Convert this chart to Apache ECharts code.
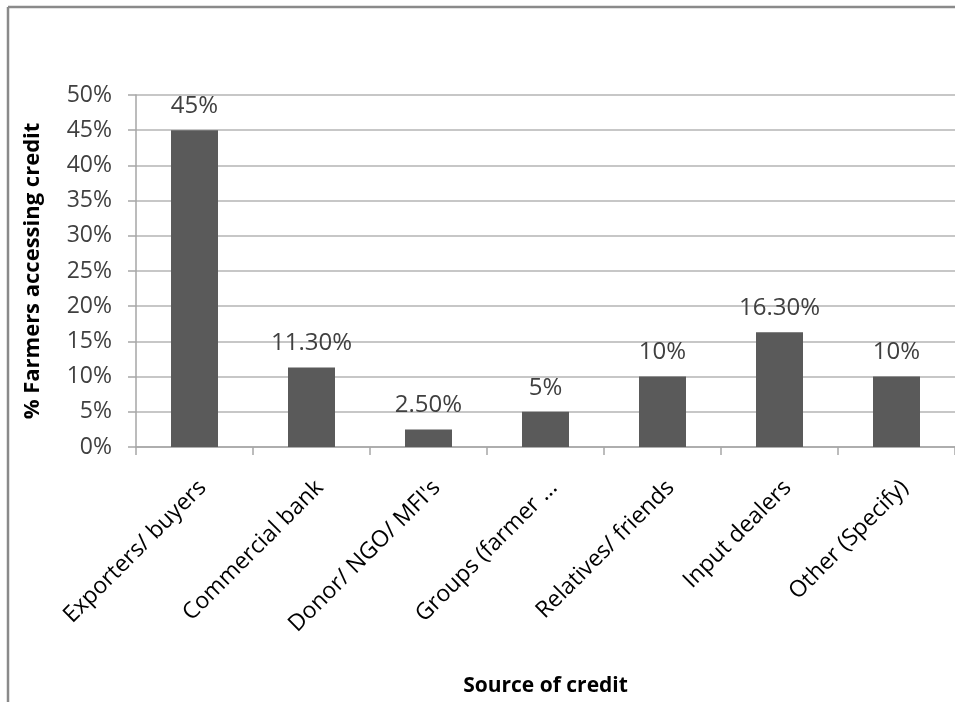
<!DOCTYPE html>
<html><head><meta charset="utf-8">
<script src="https://cdn.jsdelivr.net/npm/echarts@6/dist/echarts.min.js"></script>
<style>html,body{margin:0;padding:0;background:#fff}#c{width:955px;height:702px}</style>
</head><body><div id="c"></div>
<script>
const categories = ["Exporters/ buyers","Commercial bank","Donor/ NGO/ MFI's","Groups (farmer ...","Relatives/ friends","Input dealers","Other (Specify)"];
const values = [45, 11.3, 2.5, 5, 10, 16.3, 10];
const valueLabels = ["45%","11.30%","2.50%","5%","10%","16.30%","10%"];
const yTicks = [0,5,10,15,20,25,30,35,40,45,50];
const FONT = "Open Sans";
const chart = echarts.init(document.getElementById('c'));
chart.setOption({
  animation:false,
  backgroundColor:'#fff',
  graphic:[
    {type:'line', shape:{x1:8,y1:7,x2:8,y2:702}, style:{stroke:'#8a8a8a',lineWidth:2.5}},
    {type:'line', shape:{x1:8,y1:7,x2:955,y2:7}, style:{stroke:'#8a8a8a',lineWidth:2.5}}
  ],
  grid:{left:136, top:95, width:832, height:355, containLabel:false},
  xAxis:{
    type:'category', data:categories,
    axisLine:{lineStyle:{color:'#a6a6a6',width:1.5}},
    axisTick:{show:true,length:8,alignWithLabel:false,lineStyle:{color:'#a6a6a6',width:1.5}},
    axisLabel:{interval:0, rotate:45, margin:29, align:'right', verticalAlign:'top', color:'#000', fontFamily:FONT, fontSize:23},
    name:'Source of credit', nameLocation:'middle', nameGap:229,
    nameTextStyle:{color:'#000', fontFamily:FONT, fontSize:21, fontWeight:'bold'}
  },
  yAxis:{
    type:'value', min:yTicks[0], max:yTicks[yTicks.length-1], interval:5,
    axisLine:{show:true,lineStyle:{color:'#a6a6a6',width:1.5}},
    axisTick:{show:true,length:8,lineStyle:{color:'#a6a6a6',width:1.5}},
    splitLine:{lineStyle:{color:'#b4b4b4',width:1.5}},
    axisLabel:{margin:24, color:'#404040', fontFamily:FONT, fontSize:23, formatter:v=>v+'%'},
    name:'% Farmers accessing credit', nameLocation:'middle', nameGap:92, nameRotate:90,
    nameTextStyle:{color:'#000', fontFamily:FONT, fontSize:22, fontWeight:'bold'}
  },
  series:[{
    type:'bar', data:values, barWidth:47,
    itemStyle:{color:'#5a5a5a'},
    label:{show:true, position:'top', distance:12, color:'#404040', fontFamily:FONT, fontSize:24,
      formatter:p=>valueLabels[p.dataIndex]}
  }]
});
</script></body></html>
